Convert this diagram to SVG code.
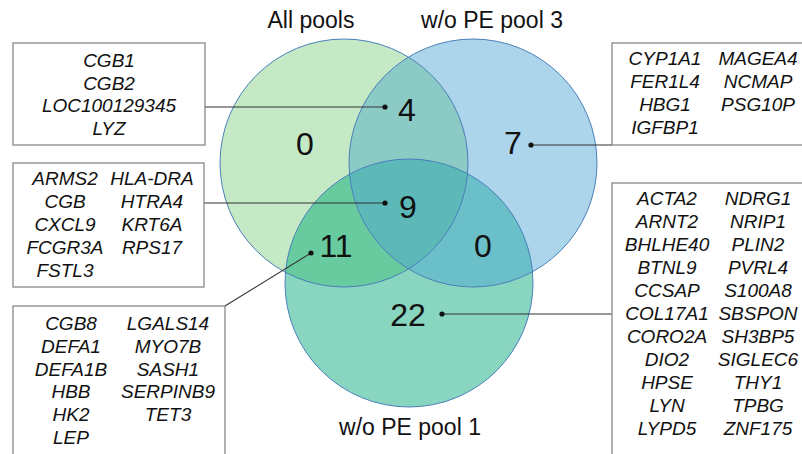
<svg xmlns="http://www.w3.org/2000/svg" width="802" height="454" viewBox="0 0 802 454">
<style>
.lbl{font-family:"Liberation Sans",Arial,sans-serif;font-size:23px;fill:#111;text-anchor:middle}
.num{font-family:"Liberation Sans",Arial,sans-serif;font-size:32px;fill:#111;text-anchor:middle}
.gene{font-family:"Liberation Sans",Arial,sans-serif;font-size:19px;font-style:italic;fill:#111;text-anchor:middle}
.box{fill:#fff;stroke:#7f7f7f;stroke-width:1.2}
.edge{fill:none;stroke:#4a7fba;stroke-width:1}
.conn{stroke:#333;stroke-width:1.1;fill:none}
.dot{fill:#111}
</style>
<defs>
<clipPath id="cG"><circle cx="344" cy="163" r="124"/></clipPath>
<clipPath id="cB"><circle cx="473" cy="163" r="124"/></clipPath>
</defs>
<g id="venn">
<circle cx="344" cy="163" r="124" fill="#c5e8c5"/>
<circle cx="473" cy="163" r="124" fill="#acd4ea"/>
<circle cx="409" cy="283" r="124" fill="#88d6c0"/>
<circle cx="473" cy="163" r="124" fill="#8ccac6" clip-path="url(#cG)"/>
<circle cx="409" cy="283" r="124" fill="#68cb9f" clip-path="url(#cG)"/>
<circle cx="409" cy="283" r="124" fill="#6bbfc9" clip-path="url(#cB)"/>
<g clip-path="url(#cG)"><circle cx="409" cy="283" r="124" fill="#5cb9b8" clip-path="url(#cB)"/></g>
<circle class="edge" cx="344" cy="163" r="124"/>
<circle class="edge" cx="473" cy="163" r="124"/>
<circle class="edge" cx="409" cy="283" r="124"/>
</g>
<g id="titles">
<text class="lbl" x="311" y="28">All pools</text>
<text class="lbl" x="492" y="28">w/o PE pool 3</text>
<text class="lbl" x="410" y="435">w/o PE pool 1</text>
</g>
<g id="counts">
<text class="num" x="305" y="155">0</text>
<text class="num" x="407" y="121">4</text>
<text class="num" x="513" y="154">7</text>
<text class="num" x="408" y="218">9</text>
<text class="num" x="336" y="257">11</text>
<text class="num" x="483" y="257">0</text>
<text class="num" x="408" y="326">22</text>
</g>
<g id="connectors">
<line class="conn" x1="205" y1="107" x2="385" y2="107"/>
<line class="conn" x1="531" y1="145" x2="612" y2="145"/>
<line class="conn" x1="204" y1="203" x2="385" y2="203"/>
<line class="conn" x1="311" y1="253" x2="225" y2="306"/>
<line class="conn" x1="442" y1="314" x2="612" y2="314"/>
<circle class="dot" cx="385" cy="107" r="2.6"/>
<circle class="dot" cx="531" cy="145" r="2.6"/>
<circle class="dot" cx="385" cy="203" r="2.6"/>
<circle class="dot" cx="311" cy="253" r="2.6"/>
<circle class="dot" cx="442" cy="314" r="2.6"/>
</g>
<g id="box-gb">
<rect class="box" x="13" y="43" width="192" height="102"/>
<text class="gene" x="109" y="67">CGB1</text>
<text class="gene" x="109" y="90">CGB2</text>
<text class="gene" x="109" y="112">LOC100129345</text>
<text class="gene" x="109" y="135">LYZ</text>
</g>
<g id="box-b">
<rect class="box" x="612" y="43" width="200" height="102"/>
<text class="gene" x="665" y="65">CYP1A1</text>
<text class="gene" x="665" y="88">FER1L4</text>
<text class="gene" x="665" y="111">HBG1</text>
<text class="gene" x="665" y="134">IGFBP1</text>
<text class="gene" x="758" y="65">MAGEA4</text>
<text class="gene" x="758" y="88">NCMAP</text>
<text class="gene" x="758" y="111">PSG10P</text>
</g>
<g id="box-gbt">
<rect class="box" x="13" y="163" width="191" height="124"/>
<text class="gene" x="65" y="185">ARMS2</text>
<text class="gene" x="65" y="208">CGB</text>
<text class="gene" x="65" y="231">CXCL9</text>
<text class="gene" x="65" y="254">FCGR3A</text>
<text class="gene" x="65" y="277">FSTL3</text>
<text class="gene" x="152" y="185">HLA-DRA</text>
<text class="gene" x="152" y="208">HTRA4</text>
<text class="gene" x="152" y="231">KRT6A</text>
<text class="gene" x="152" y="254">RPS17</text>
</g>
<g id="box-gt">
<rect class="box" x="13" y="306" width="212" height="160"/>
<text class="gene" x="71" y="330">CGB8</text>
<text class="gene" x="71" y="353">DEFA1</text>
<text class="gene" x="71" y="376">DEFA1B</text>
<text class="gene" x="71" y="398">HBB</text>
<text class="gene" x="71" y="421">HK2</text>
<text class="gene" x="71" y="444">LEP</text>
<text class="gene" x="168" y="330">LGALS14</text>
<text class="gene" x="168" y="353">MYO7B</text>
<text class="gene" x="168" y="376">SASH1</text>
<text class="gene" x="168" y="398">SERPINB9</text>
<text class="gene" x="168" y="421">TET3</text>
</g>
<g id="box-t">
<rect class="box" x="612" y="183" width="200" height="290"/>
<text class="gene" x="667" y="205">ACTA2</text>
<text class="gene" x="667" y="228">ARNT2</text>
<text class="gene" x="667" y="251">BHLHE40</text>
<text class="gene" x="667" y="274">BTNL9</text>
<text class="gene" x="667" y="297">CCSAP</text>
<text class="gene" x="667" y="320">COL17A1</text>
<text class="gene" x="667" y="343">CORO2A</text>
<text class="gene" x="667" y="366">DIO2</text>
<text class="gene" x="667" y="389">HPSE</text>
<text class="gene" x="667" y="412">LYN</text>
<text class="gene" x="667" y="435">LYPD5</text>
<text class="gene" x="758" y="205">NDRG1</text>
<text class="gene" x="758" y="228">NRIP1</text>
<text class="gene" x="758" y="251">PLIN2</text>
<text class="gene" x="758" y="274">PVRL4</text>
<text class="gene" x="758" y="297">S100A8</text>
<text class="gene" x="758" y="320">SBSPON</text>
<text class="gene" x="758" y="343">SH3BP5</text>
<text class="gene" x="758" y="366">SIGLEC6</text>
<text class="gene" x="758" y="389">THY1</text>
<text class="gene" x="758" y="412">TPBG</text>
<text class="gene" x="758" y="435">ZNF175</text>
</g>
</svg>
